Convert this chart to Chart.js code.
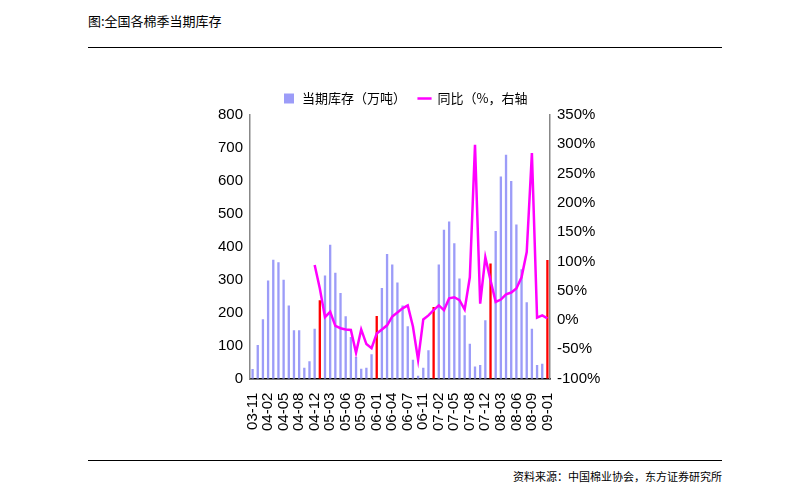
<!DOCTYPE html>
<html>
<head>
<meta charset="utf-8">
<script src="https://cdn.jsdelivr.net/npm/chart.js@4.4.1/dist/chart.umd.min.js"></script>
<style>
  body { margin: 0; background: #fff; font-family: "Liberation Sans", Arial, sans-serif; }
  #wrap { position: relative; width: 800px; height: 500px; }
  #title { position: absolute; left: 88px; top: 11px; font-size: 13px; font-family: "Noto Sans CJK SC", sans-serif; }
  .rule { position: absolute; left: 88px; width: 634px; height: 1px; background: #000; }
  #src { position: absolute; right: 78px; top: 468px; font-size: 11px; font-family: "Noto Sans CJK SC", sans-serif; }
  canvas { position: absolute; left: 0; top: 0; }
</style>
</head>
<body>
<div id="wrap">
  <div id="title">图:全国各棉季当期库存</div>
  <div class="rule" style="top:47px"></div>
  <div class="rule" style="top:460px"></div>
  <div id="src">资料来源：中国棉业协会，东方证券研究所</div>
  <canvas id="c" width="800" height="500"></canvas>
</div>
<script>
// months (Oct is missing each year in the source data)
const months = [
  "03-11","03-12",
  "04-01","04-02","04-03","04-04","04-05","04-06","04-07","04-08","04-09","04-11","04-12",
  "05-01","05-02","05-03","05-04","05-05","05-06","05-07","05-08","05-09","05-11","05-12",
  "06-01","06-02","06-03","06-04","06-05","06-06","06-07","06-08","06-09","06-11","06-12",
  "07-01","07-02","07-03","07-04","07-05","07-06","07-07","07-08","07-09","07-11","07-12",
  "08-01","08-02","08-03","08-04","08-05","08-06","08-07","08-08","08-09","08-11","08-12",
  "09-01"
];

// 当期库存 (万吨)
const stock = [
  29, 102,
  180, 298, 361, 353, 300, 222, 147, 147, 33, 53, 151,
  238, 313, 406, 321, 260, 189, 126, 66, 30, 33, 74,
  190, 275, 378, 346, 292, 222, 159, 57, 9, 33, 86,
  217, 346, 452, 477, 411, 304, 192, 106, 37, 41, 177,
  349, 448, 613, 679, 600, 468, 332, 232, 151, 41, 45,
  360
];

// 同比 (%)
const yoy = [
  null, null,
  null, null, null, null, null, null, null, null, null, null, 94,
  54, 5, 14, -10, -14, -16, -17, -56, -16, -41, -48,
  -23, -16, -9, 6, 13, 20, 25, -11, -68, 1, 8,
  17, 25, 17, 37, 39, 34, 18, 73, 299, 28, 107,
  68, 31, 35, 44, 47, 54, 73, 116, 285, 4, 8,
  3
];

const barColors = months.map((m, i) => (m.endsWith("-01") && i > 2) ? "#ff0000" : "#9c9cf8");
const tickFont = { family: "Liberation Sans Narrow, Liberation Sans", size: 15 };

new Chart(document.getElementById("c"), {
  data: {
    labels: months,
    datasets: [
      {
        type: "bar",
        label: "当期库存（万吨）",
        data: stock,
        yAxisID: "y",
        backgroundColor: barColors,
        categoryPercentage: 1,
        barPercentage: 0.45,
        order: 1
      },
      {
        type: "line",
        label: "同比（%，右轴",
        data: yoy,
        yAxisID: "y1",
        borderColor: "#ff00ff",
        backgroundColor: "#ff00ff",
        borderWidth: 2.5,
        pointRadius: 0,
        tension: 0,
        order: 0
      }
    ]
  },
  options: {
    responsive: false,
    animation: false,
    layout: { padding: { left: 208, right: 198, top: 80, bottom: 55 } },
    plugins: {
      legend: {
        labels: {
          font: { family: "Noto Sans CJK SC", size: 13 },
          color: "#000",
          boxWidth: 28,
          boxHeight: 10,
          padding: 12,
          usePointStyle: true,
          generateLabels: (chart) => chart.data.datasets.map((ds, i) => ({
            text: ds.label,
            fillStyle: i === 1 ? "#ff00ff" : "#9c9cf8",
            strokeStyle: i === 1 ? "#ff00ff" : "#9c9cf8",
            lineWidth: i === 1 ? 2.5 : 0,
            pointStyle: i === 1 ? "line" : "rect",
            datasetIndex: i,
            fontColor: "#000"
          }))
        }
      },
      tooltip: { enabled: false }
    },
    scales: {
      x: {
        grid: { display: false, drawTicks: false },
        border: { color: "#000", width: 1.5 },
        ticks: {
          autoSkip: false,
          maxRotation: 90,
          minRotation: 90,
          padding: 14,
          color: "#000",
          font: tickFont,
          callback: (v, i) => i % 3 === 0 ? months[i] : ""
        }
      },
      y: {
        position: "left",
        min: 0, max: 800,
        grid: { display: false, drawTicks: true, tickLength: 4 },
        border: { color: "#888", width: 1.5 },
        afterFit: (s) => { s.width = 42; },
        ticks: { stepSize: 100, color: "#000", font: tickFont }
      },
      y1: {
        position: "right",
        min: -100, max: 350,
        grid: { display: false, drawTicks: true, tickLength: 4 },
        border: { color: "#888", width: 1.5 },
        afterFit: (s) => { s.width = 52; },
        ticks: {
          stepSize: 50,
          color: "#000",
          font: tickFont,
          callback: (v) => v + "%"
        }
      }
    }
  }
});
</script>
</body>
</html>
